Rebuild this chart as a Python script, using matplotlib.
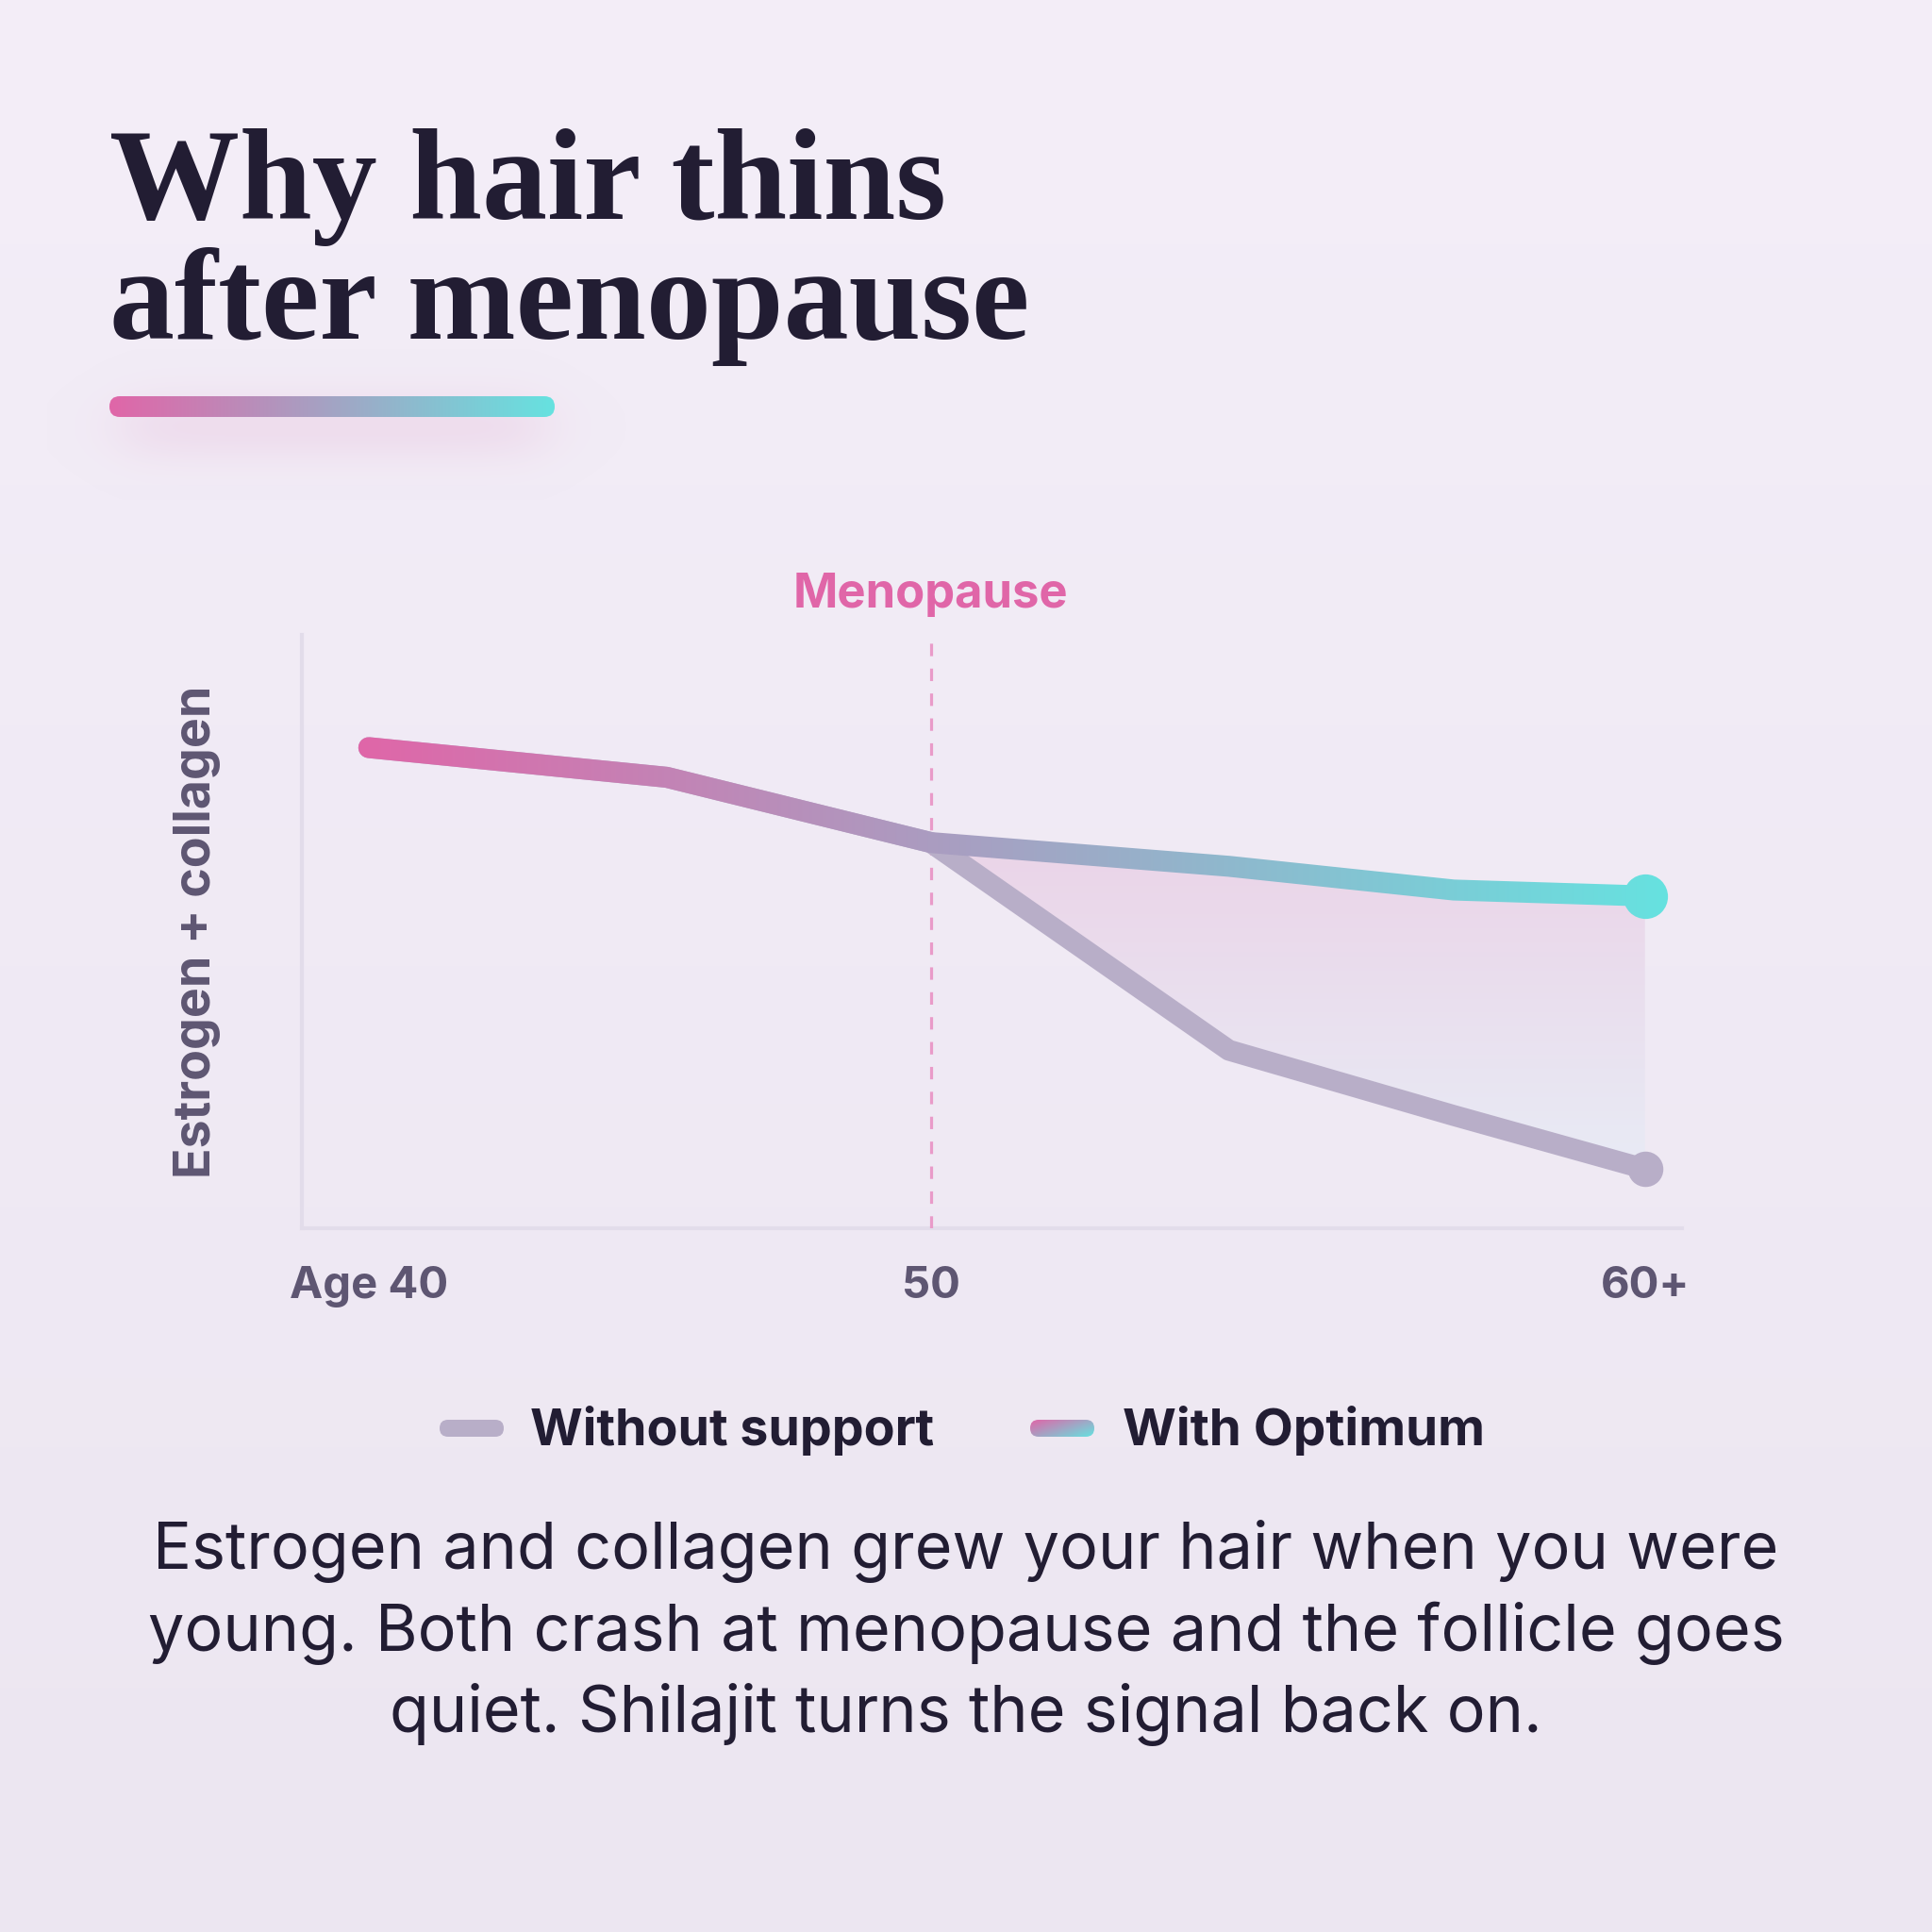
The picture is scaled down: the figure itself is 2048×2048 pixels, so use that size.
import numpy as np
import matplotlib
matplotlib.use("Agg")
import matplotlib.pyplot as plt
from matplotlib.patches import FancyBboxPatch, PathPatch
from matplotlib.colors import to_rgb

plt.rcParams["lines.scale_dashes"] = False

# ---------------- data ----------------
ages = [40, 45.3, 50, 55.3, 59.3, 62.7]
with_optimum = [81, 76, 65, 61, 57, 56]
without_support = [81, 76, 65, 30, 19, 10]
tick_positions = [40, 50, 62.7]
tick_labels = ["Age 40", "50", "60+"]
menopause_age = 50
series_names = ["Without support", "With Optimum"]
title_lines = ["Why hair thins", "after menopause"]
y_label = "Estrogen + collagen"
body_lines = [
    "Estrogen and collagen grew your hair when you were",
    "young. Both crash at menopause and the follicle goes",
    "quiet. Shilajit turns the signal back on.",
]

# ---------------- style ----------------
PINK = "#E066A8"
CYAN = "#66E2E0"
GREY = "#B8AEC8"
DARK = "#221D33"
MUTED = "#5E5672"
SPINE = "#E2DCEA"
SANS = ["Inter", "DejaVu Sans"]
SERIF = ["Liberation Serif", "DejaVu Serif"]
LW = 16

W = 2048
fig = plt.figure(figsize=(20.48, 20.48), dpi=100)
bg = fig.add_axes([0, 0, 1, 1])
bg.set_xlim(0, W)
bg.set_ylim(W, 0)
bg.axis("off")
rend = fig.canvas.get_renderer()


def size_for(text, target, vertical=False, **kw):
    t = bg.text(0, 0, text, fontsize=100, rotation=90 if vertical else 0, **kw)
    bb = t.get_window_extent(rend)
    t.remove()
    return 100 * target / (bb.height if vertical else bb.width)


# background gradient
g = np.linspace(0, 1, 256)[:, None, None]
top, bot = np.array(to_rgb("#F4EEF8")), np.array(to_rgb("#ECE6F1"))
bg.imshow(top * (1 - g) + bot * g, extent=[0, W, W, 0], aspect="auto",
          zorder=0, interpolation="bicubic")

# title
fs_title = size_for(title_lines[1], 975, family=SERIF, weight="bold")
for i, (line, base) in enumerate(zip(title_lines, [232, 359])):
    bg.text(116, base, line, fontsize=fs_title, family=SERIF, weight="bold",
            color=DARK, ha="left", va="baseline", zorder=5)

# glow under the bar
yy, xx = np.mgrid[370:530, 50:670]
sig = lambda z: 1 / (1 + np.exp(-z))
alpha = 0.42 * sig((xx - 130) / 20) * sig((575 - xx) / 20) * sig((yy - 425) / 13) * sig((478 - yy) / 13)
glow = np.zeros(xx.shape + (4,))
glow[..., :3] = to_rgb("#E6BEDC")
glow[..., 3] = alpha
bg.imshow(glow, extent=[50, 670, 530, 370], aspect="auto", zorder=2)

# gradient bar
bar = FancyBboxPatch((116, 420), 472, 22, boxstyle="round,pad=0,rounding_size=11",
                     facecolor="none", edgecolor="none", transform=bg.transData)
bg.add_patch(bar)
h = np.linspace(0, 1, 256)[None, :, None]
pk, cy = np.array(to_rgb(PINK)), np.array(to_rgb(CYAN))
im = bg.imshow(pk * (1 - h) + cy * h, extent=[116, 588, 442, 420], aspect="auto", zorder=3)
im.set_clip_path(bar)

# ---------------- chart ----------------
ax = fig.add_axes([320 / W, 1 - 1302 / W, (1783 - 320) / W, (1302 - 673) / W])
ax.set_facecolor("none")
for s in ["top", "right"]:
    ax.spines[s].set_visible(False)
for s in ["left", "bottom"]:
    ax.spines[s].set_color(SPINE)
    ax.spines[s].set_linewidth(3)
    ax.spines[s].set_zorder(1)

# fill between the two outcomes after menopause
i0 = ages.index(menopause_age)
poly = ax.fill_between(ages[i0:], with_optimum[i0:], without_support[i0:],
                       facecolor="none", edgecolor="none")
clip = PathPatch(poly.get_paths()[0], facecolor="none", edgecolor="none", transform=ax.transData)
ax.add_patch(clip)
v = np.linspace(0, 1, 256)[:, None, None]
ftop, fbot = np.array(to_rgb("#EBD4E8")), np.array(to_rgb("#E8EBF5"))
fim = ax.imshow(ftop * (1 - v) + fbot * v,
                extent=[ages[i0], ages[-1], min(without_support), max(with_optimum[i0:])],
                aspect="auto", zorder=1, interpolation="bicubic")
fim.set_clip_path(clip)

# menopause marker
ax.axvline(menopause_age, color="#E99BC9", lw=2.3, linestyle=(0, (9.5, 9.5)), zorder=2)
fs_meno = size_for("Menopause", 292, family=SANS, weight="bold")
ax.text(menopause_age, (1302 - 644) / 629, "Menopause", transform=ax.get_xaxis_transform(),
        ha="center", va="baseline", color=PINK, fontsize=fs_meno, family=SANS, weight="bold")

# lines
ax.plot(ages, without_support, color=GREY, lw=LW, solid_capstyle="round",
        solid_joinstyle="round", zorder=3)
ax.plot(ages[-1:], without_support[-1:], "o", ms=27, mew=0, color=GREY, zorder=3)


def hgrad_filter(img, dpi):
    out = img.copy()
    n = img.shape[1]
    t = np.linspace(0, 1, n)[None, :, None]
    out[..., :3] = pk * (1 - t) + cy * t
    return out, 0, 0


opt, = ax.plot(ages, with_optimum, color="k", lw=LW, solid_capstyle="round",
               solid_joinstyle="round", marker="o", markevery=[len(ages) - 1],
               ms=34, mew=0, zorder=5)
opt.set_agg_filter(hgrad_filter)

ax.set_xlim(38.81, 63.36)
ax.set_ylim(0, 100)
ax.set_yticks([])
fs_tick = size_for("Age 40", 168, family=SANS, weight="bold")
ax.set_xticks(tick_positions, tick_labels)
ax.tick_params(axis="x", length=0, pad=29, labelsize=fs_tick, labelcolor=MUTED)
for lab in ax.get_xticklabels():
    lab.set_family(SANS)
    lab.set_weight("bold")

fs_yl = size_for(y_label, 522, vertical=True, family=SANS, weight="bold")
ax.set_ylabel(y_label, fontsize=fs_yl, family=SANS, weight="bold", color=MUTED, labelpad=62)

# ---------------- legend ----------------
fs_leg = size_for(series_names[0], 428, family=SANS, weight="bold")
sw1 = FancyBboxPatch((466, 1505), 68, 18, boxstyle="round,pad=0,rounding_size=9",
                     facecolor=GREY, edgecolor="none", transform=bg.transData, zorder=3)
bg.add_patch(sw1)
bg.text(562, 1532, series_names[0], fontsize=fs_leg, family=SANS, weight="bold",
        color=DARK, ha="left", va="baseline")
sw2 = FancyBboxPatch((1092, 1505), 68, 18, boxstyle="round,pad=0,rounding_size=9",
                     facecolor="none", edgecolor="none", transform=bg.transData)
bg.add_patch(sw2)
gy, gx = np.mgrid[0:1:40j, 0:1:120j]
d = ((gx * 0.8 + gy * 0.6) / 1.4)[..., None]
sim = bg.imshow(pk * (1 - d) + cy * d, extent=[1092, 1160, 1523, 1505], aspect="auto", zorder=3)
sim.set_clip_path(sw2)
bg.text(1190, 1532, series_names[1], fontsize=fs_leg * 1.02, family=SANS, weight="bold",
        color=DARK, ha="left", va="baseline")

# ---------------- body text ----------------
fs_body = size_for(body_lines[1], 1734, family=SANS)
for line, base in zip(body_lines, [1663, 1750, 1836]):
    bg.text(1024, base, line, fontsize=fs_body, family=SANS, color=DARK,
            ha="center", va="baseline")

bg.set_xlim(0, W)
bg.set_ylim(W, 0)
fig.savefig("out.png", dpi=100, facecolor="#F2EDF6")
